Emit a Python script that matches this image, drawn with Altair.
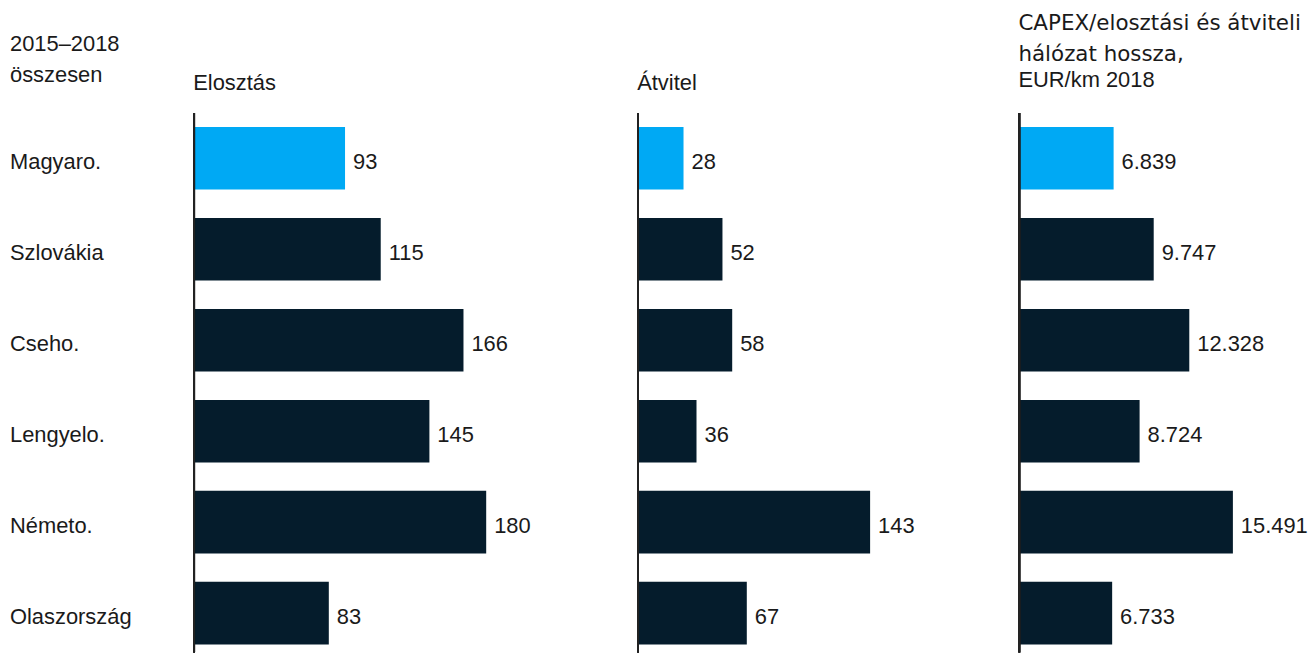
import altair as alt
import pandas as pd

countries = ["Magyaro.", "Szlovákia", "Cseho.", "Lengyelo.", "Németo.", "Olaszország"]
elosztas = [93, 115, 166, 145, 180, 83]
atvitel = [28, 52, 58, 36, 143, 67]
capex = [6839, 9747, 12328, 8724, 15491, 6733]

FONT = "Liberation Sans"
FS = 22
TXT = "#1a1a1a"
HL = "#00A9F4"
DARK = "#051C2C"
H = 542
YSCALE = dict(type="band", paddingInner=0.311, paddingOuter=0.1203, align=0.636)


def fmt(v):
    return f"{v:,}".replace(",", ".")


def ytext():
    return alt.Y("country:N", sort=countries, axis=None, bandPosition=0.5,
                 scale=alt.Scale(**YSCALE))


def ybar():
    return alt.Y("country:N", sort=countries, axis=None, scale=alt.Scale(**YSCALE))


def panel(values, title, width, dmax):
    df = pd.DataFrame({"country": countries, "value": values,
                       "label": [fmt(v) for v in values]})
    base = alt.Chart(df)
    x = alt.X("value:Q", axis=None, scale=alt.Scale(domain=[0, dmax], nice=False, zero=True))
    bars = base.mark_bar(cornerRadius=0).encode(
        x=x, y=ybar(),
        color=alt.condition(alt.datum.country == countries[0], alt.value(HL), alt.value(DARK)),
    )
    labels = base.mark_text(align="left", baseline="middle", dx=8, dy=3.5,
                            font=FONT, fontSize=FS, color=TXT).encode(
        x=x, y=ytext(), text="label:N")
    rule = base.mark_rule(color="#222222", strokeWidth=1.8).encode(
        x=alt.value(0), y=alt.value(0), y2=alt.value(H))
    return alt.layer(bars, labels, rule).properties(width=width, height=H, title=title)


lab_df = pd.DataFrame({"country": countries})
label_panel = alt.Chart(lab_df).mark_text(
    align="left", baseline="middle", dy=4, font=FONT, fontSize=FS, color=TXT
).encode(x=alt.value(2), y=ytext(), text="country:N").properties(
    width=187, height=H,
    title=alt.TitleParams(["2015–2018", "összesen"], anchor="start", offset=26,
                          lineHeight=31.5, dx=2))

W1, W2, W3 = 446, 383, 284
p1 = panel(elosztas, alt.TitleParams("Elosztás", anchor="start", offset=16.8), W1, W1 / 1.63)
p2 = panel(atvitel, alt.TitleParams("Átvitel", anchor="start", offset=16.8), W2, W2 / 1.63)
p3 = panel(capex, alt.TitleParams(["CAPEX/elosztási és átviteli", "hálózat hossza,"],
                                  subtitle="EUR/km 2018", anchor="start", offset=21,
                                  font="DejaVu Sans", fontSize=21.5,
                                  lineHeight=31, subtitleLineHeight=30, subtitlePadding=4.6),
           W3, W3 / 0.01385)

chart = alt.hconcat(label_panel, p1, p2, p3, spacing=0, bounds="flush").properties(
    padding={"left": 0, "top": 4, "right": 0, "bottom": 0},
    autosize=alt.AutoSizeParams(type="pad"),
).configure_view(stroke=None).configure_title(
    font=FONT, fontSize=FS, fontWeight="normal", color=TXT,
    subtitleFont=FONT, subtitleFontSize=FS, subtitleColor=TXT, subtitleFontWeight="normal",
)

chart.save("out.html", embed_options={"renderer": "svg", "actions": False})
